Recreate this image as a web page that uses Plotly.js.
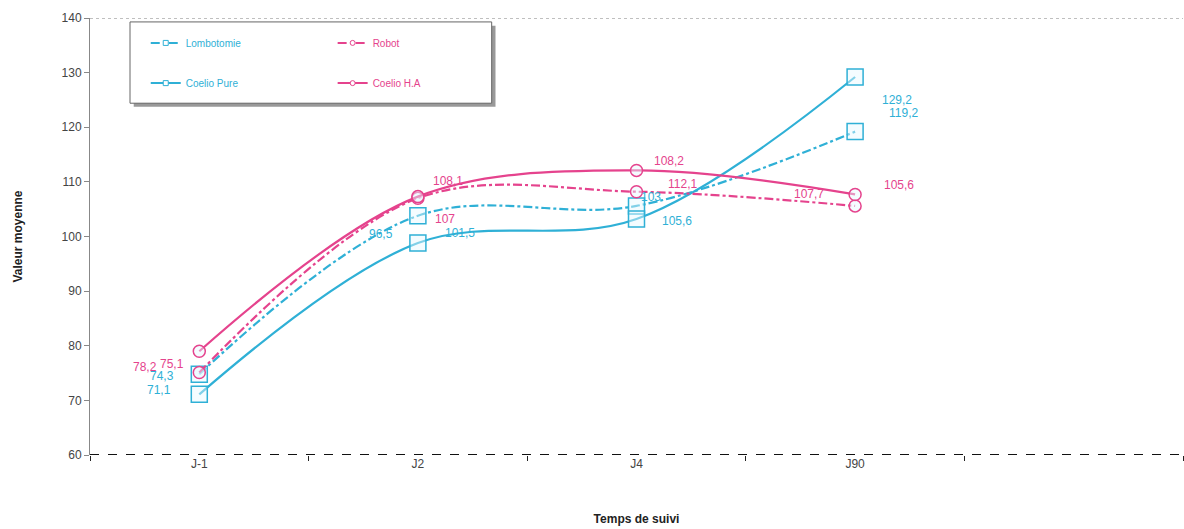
<!DOCTYPE html>
<html>
<head>
<meta charset="utf-8">
<script src="https://cdn.plot.ly/plotly-3.0.1.min.js"></script>
<style>html,body{margin:0;padding:0;background:#fff}#chart{width:1184px;height:529px}</style>
</head>
<body>
<div id="chart"></div>
<script>
// ---- data ----
const categories = ["J-1", "J2", "J4", "J90"];
const lombotomie = [74.8, 103.8, 105.6, 119.2];
const coelioPure = [71.1, 98.8, 103.2, 129.2];
const robot = [75.1, 107.0, 108.2, 105.6];
const coelioHA = [79.0, 107.3, 112.1, 107.7];
const lombotomieLabels = ["74,3", "96,5", "103", "119,2"];
const coelioPureLabels = ["71,1", "101,5", "105,6", "129,2"];
const robotLabels = ["75,1", "107", "108,2", "105,6"];
const coelioHALabels = ["78,2", "108,1", "112,1", "107,7"];
const yTicks = [60, 70, 80, 90, 100, 110, 120, 130, 140];

const CYAN = "#2fb0d6";
const PINK = "#e5438d";
const xs = categories.map((c, i) => i);

function series(name, y, color, dash, symbol, size) {
  return {
    type: "scatter", mode: "lines+markers", name: name, x: xs, y: y,
    line: {color: color, width: 2.2, dash: dash, shape: "spline", smoothing: 1},
    marker: {symbol: symbol, size: size, color: "rgba(230,248,255,0.45)", line: {color: color, width: 1.5}},
    showlegend: false, hoverinfo: "x+y"
  };
}
function legendItem(name, color, dash, symbol, legend) {
  return {
    type: "scatter", mode: "lines+markers", name: name, x: [null], y: [null],
    line: {color: color, width: 2, dash: dash},
    marker: {symbol: symbol, size: 5, color: "#fff", line: {color: color, width: 1}},
    legend: legend, showlegend: true
  };
}

const traces = [
  series("Lombotomie", lombotomie, CYAN, "dashdot", "square", 16),
  series("Coelio Pure", coelioPure, CYAN, "solid", "square", 16),
  series("Robot", robot, PINK, "dashdot", "circle", 12),
  series("Coelio H.A", coelioHA, PINK, "solid", "circle", 12),
  legendItem("Lombotomie", CYAN, "dash", "square", "legend"),
  legendItem("Robot", PINK, "dash", "circle", "legend2"),
  legendItem("Coelio Pure", CYAN, "solid", "square", "legend3"),
  legendItem("Coelio H.A", PINK, "solid", "circle", "legend4")
];

// label offsets in pixels (style only)
const labelShift = {
  lombotomie: [[-37, -2], [-37, -18], [14, 9], [48, 19]],
  coelioPure: [[-40, 4], [42, 10], [40, -2], [42, -23]],
  robot: [[-27, 9], [27, -21], [32, 31], [44, 21]],
  coelioHA: [[-54, -16], [30, 16], [46, -14], [-46, 0]]
};
const annotations = [];
function addLabels(vals, labels, shifts, color) {
  vals.forEach((v, i) => {
    annotations.push({
      x: xs[i], y: v, xref: "x", yref: "y", text: labels[i], showarrow: false,
      xshift: shifts[i][0], yshift: shifts[i][1],
      font: {family: "Liberation Sans, Arial, sans-serif", size: 12, color: color}
    });
  });
}
addLabels(lombotomie, lombotomieLabels, labelShift.lombotomie, CYAN);
addLabels(coelioPure, coelioPureLabels, labelShift.coelioPure, CYAN);
addLabels(robot, robotLabels, labelShift.robot, PINK);
addLabels(coelioHA, coelioHALabels, labelShift.coelioHA, PINK);

function leg(x, y, color) {
  return {x: x, y: y, xanchor: "left", yanchor: "middle", bgcolor: "rgba(0,0,0,0)",
    borderwidth: 0, font: {family: "Liberation Sans, Arial, sans-serif", size: 10, color: color},
    itemwidth: 30};
}

const layout = {
  width: 1184, height: 529,
  margin: {l: 90, r: 1, t: 18, b: 74},
  paper_bgcolor: "#fff", plot_bgcolor: "#fff",
  font: {family: "Liberation Sans, Arial, sans-serif", size: 12, color: "#444"},
  xaxis: {
    range: [-0.5, 4.5], tickvals: xs, ticktext: categories, ticks: "",
    showgrid: false, zeroline: false, showline: false,
    tickfont: {size: 12, color: "#444"},
    minor: {tickvals: [-0.5, 0.5, 1.5, 2.5, 3.5, 4.5], ticks: "outside", ticklen: 5, tickcolor: "#222", tickwidth: 1, showgrid: false},
    title: {text: "Temps de suivi", font: {size: 12, color: "#222", weight: "bold"}, standoff: 44}
  },
  yaxis: {
    range: [60, 140], tickvals: yTicks, ticks: "outside", ticklen: 5, tickcolor: "#888",
    showgrid: false, zeroline: false, showline: true, linecolor: "#888", linewidth: 1,
    tickfont: {size: 12, color: "#444"},
    title: {text: "Valeur moyenne", font: {size: 12, color: "#222", weight: "bold"}, standoff: 36}
  },
  showlegend: true,
  legend: leg(0.051, 0.943, CYAN),
  legend2: leg(0.222, 0.943, PINK),
  legend3: leg(0.051, 0.851, CYAN),
  legend4: leg(0.222, 0.851, PINK),
  shapes: [
    {type: "line", xref: "paper", yref: "y", x0: 0, x1: 1, y0: 140, y1: 140, line: {color: "#aaa", width: 1.5, dash: "dot"}},
    {type: "line", xref: "paper", yref: "y", x0: 0, x1: 1, y0: 60, y1: 60, line: {color: "#111", width: 2, dash: "dash"}},
    {type: "rect", xref: "paper", yref: "paper", x0: 0.040, x1: 0.371, y0: 0.982, y1: 0.797, fillcolor: "#999", line: {width: 0}, layer: "below"},
    {type: "rect", xref: "paper", yref: "paper", x0: 0.0366, x1: 0.3675, y0: 0.991, y1: 0.805, fillcolor: "#fff", line: {color: "#666", width: 1}, layer: "below"}
  ],
  annotations: annotations
};

Plotly.newPlot("chart", traces, layout, {displayModeBar: false, staticPlot: true});
</script>
</body>
</html>
